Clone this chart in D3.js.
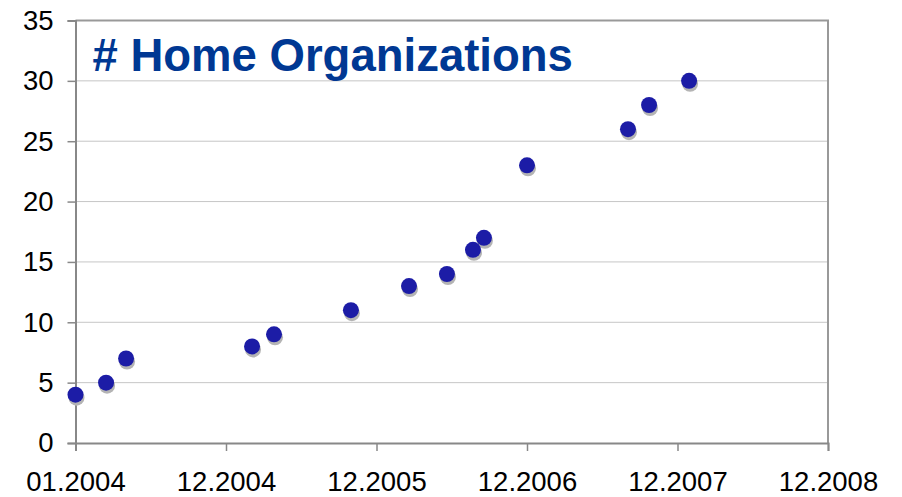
<!DOCTYPE html>
<html>
<head>
<meta charset="utf-8">
<script src="https://cdn.jsdelivr.net/npm/d3@7"></script>
<style>
    body { margin: 0; background: #fff; }
    text { font-family: "Liberation Sans", Arial, sans-serif; }
</style>
</head>
<body>
<div id="chart"></div>
<script>
// x positions in axis units (one unit per tick label)
const xValues = [0, 0.203, 0.336, 1.173, 1.319, 1.83, 2.216, 2.468, 2.641, 2.714, 3.0, 3.671, 3.811, 4.077];
const yValues = [4, 5, 7, 8, 9, 11, 13, 14, 16, 17, 23, 26, 28, 30];
const xTickLabels = ['01.2004', '12.2004', '12.2005', '12.2006', '12.2007', '12.2008'];
const yTicks = [0, 5, 10, 15, 20, 25, 30, 35];
const title = '# Home Organizations';

const config = {
    containerWidth: 902,
    containerHeight: 497,
    margin: { top: 20.5, right: 74, bottom: 54, left: 75.5 }
};

const width = config.containerWidth - config.margin.left - config.margin.right;
const height = config.containerHeight - config.margin.top - config.margin.bottom;

const svg = d3.select('#chart').append('svg')
    .attr('width', config.containerWidth)
    .attr('height', config.containerHeight);

const chart = svg.append('g')
    .attr('transform', `translate(${config.margin.left},${config.margin.top})`);

const xScale = d3.scaleLinear()
    .domain([0, xTickLabels.length - 1])
    .range([0, width]);

const yScale = d3.scaleLinear()
    .domain([0, 35])
    .range([height, 0]);

// gridlines
chart.append('g')
    .selectAll('line')
    .data(yTicks.filter(d => d > 0 && d < 35))
    .join('line')
    .attr('x1', 0)
    .attr('x2', width)
    .attr('y1', d => yScale(d))
    .attr('y2', d => yScale(d))
    .attr('stroke', '#c6c6c6')
    .attr('stroke-width', 1);

// plot frame (top and right)
chart.append('path')
    .attr('d', `M0,0H${width}V${height}`)
    .attr('fill', 'none')
    .attr('stroke', '#999')
    .attr('stroke-width', 2);

// y axis
const yAxis = d3.axisLeft(yScale)
    .tickValues(yTicks)
    .tickSize(8)
    .tickPadding(14);

const yAxisG = chart.append('g').call(yAxis);
yAxisG.select('.domain').attr('stroke', '#888').attr('stroke-width', 2);
yAxisG.selectAll('.tick line').attr('stroke', '#888').attr('stroke-width', 1.5);
yAxisG.selectAll('.tick text')
    .attr('font-size', 27.5)
    .attr('font-family', '"Liberation Sans", Arial, sans-serif')
    .attr('fill', '#000');

// x axis
const xAxis = d3.axisBottom(xScale)
    .tickValues(d3.range(xTickLabels.length))
    .tickFormat(i => xTickLabels[i])
    .tickSize(8)
    .tickPadding(20);

const xAxisG = chart.append('g')
    .attr('transform', `translate(0,${height})`)
    .call(xAxis);
xAxisG.select('.domain').attr('stroke', '#888').attr('stroke-width', 2);
xAxisG.selectAll('.tick line').attr('stroke', '#888').attr('stroke-width', 1.5);
xAxisG.selectAll('.tick text')
    .attr('font-size', 27.5)
    .attr('font-family', '"Liberation Sans", Arial, sans-serif')
    .attr('fill', '#000');

// title
chart.append('text')
    .attr('x', 17)
    .attr('y', 50.5)
    .attr('font-size', 45.5)
    .attr('font-weight', 'bold')
    .attr('fill', '#003893')
    .text(title);

const points = xValues.map((x, i) => ({ x: x, y: yValues[i] }));

// shadows
chart.selectAll('.shadow')
    .data(points)
    .join('circle')
    .attr('class', 'shadow')
    .attr('cx', d => xScale(d.x) + 1)
    .attr('cy', d => yScale(d.y) + 3)
    .attr('r', 8)
    .attr('fill', '#b4b4b4');

// dots
chart.selectAll('.point')
    .data(points)
    .join('circle')
    .attr('class', 'point')
    .attr('cx', d => xScale(d.x))
    .attr('cy', d => yScale(d.y))
    .attr('r', 8)
    .attr('fill', '#1c1ca6');
</script>
</body>
</html>
